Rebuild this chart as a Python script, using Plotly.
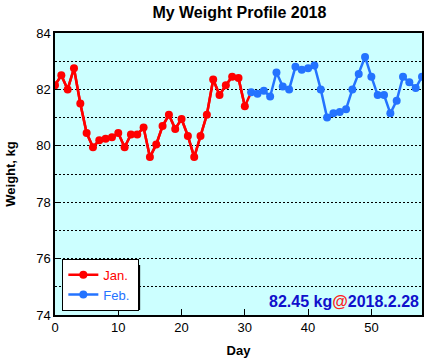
import plotly.graph_objects as go

# Data
jan_days = list(range(0, 31))
jan_weight = [82.15, 82.5, 82.0, 82.75, 81.5, 80.45, 79.95, 80.2, 80.25, 80.3,
              80.45, 79.95, 80.4, 80.4, 80.65, 79.6, 80.05, 80.7, 81.1, 80.6,
              80.95, 80.35, 79.6, 80.35, 81.1, 82.35, 81.8, 82.15, 82.45, 82.4,
              81.4]
feb_days = list(range(31, 59))
feb_weight = [81.9, 81.85, 81.95, 81.75, 82.6, 82.1, 82.0, 82.8, 82.7, 82.75,
              82.85, 82.0, 81.0, 81.15, 81.2, 81.3, 82.0, 82.55, 83.15, 82.45,
              81.8, 81.8, 81.15, 81.6, 82.45, 82.25, 82.05, 82.45]
y_ticks = [74, 76, 78, 80, 82, 84]
x_ticks = [0, 10, 20, 30, 40, 50]

RED = "#ff0000"
BLUE = "#2473ff"
FONT = "Liberation Sans, Arial, sans-serif"
DOTS = "2px,2px"

fig = go.Figure()
# Jan line continues to first Feb point
fig.add_trace(go.Scatter(
    x=jan_days + feb_days[:1], y=jan_weight + feb_weight[:1],
    mode="lines", line=dict(color=RED, width=2.5), showlegend=False, hoverinfo="skip"))
fig.add_trace(go.Scatter(
    x=jan_days, y=jan_weight, mode="lines+markers",
    name="<span style='color:#ff0000'>Jan.</span>&nbsp;",
    line=dict(color=RED, width=2.5), marker=dict(color=RED, size=8)))
fig.add_trace(go.Scatter(
    x=feb_days, y=feb_weight, mode="lines+markers",
    name="<span style='color:#2473ff'>Feb.</span>&nbsp;",
    line=dict(color=BLUE, width=2.5), marker=dict(color=BLUE, size=8)))

fig.update_layout(
    width=429, height=364,
    margin=dict(l=55, r=5, t=33, b=49),
    paper_bgcolor="white", plot_bgcolor="#ccffff",
    font=dict(family=FONT, size=13, color="black"),
    title=dict(text="<b>My Weight Profile 2018</b>", x=0.558, xanchor="center",
               y=0.965, yanchor="middle", font=dict(size=16, family=FONT)),
    legend=dict(x=0.02, y=0.015, xanchor="left", yanchor="bottom",
                bgcolor="white", bordercolor="black", borderwidth=1,
                font=dict(size=13, family=FONT), tracegroupgap=0,
                itemwidth=30),
    showlegend=True,
)
# legend drop shadow
fig.add_shape(type="rect", xref="paper", yref="paper",
              x0=0.027, x1=0.232, y0=0.0177, y1=0.1773,
              fillcolor="black", line=dict(width=0), layer="above")

fig.update_xaxes(
    range=[0, 58], tickvals=x_ticks, ticks="inside", ticklen=6, tickcolor="black",
    tickfont=dict(size=13, family=FONT), showgrid=False, zeroline=False,
    showline=True, linecolor="black", linewidth=1.5, mirror=True,
    title=dict(text="<b>Day</b>", font=dict(size=13, family=FONT), standoff=12),
    tickprefix="<b>", ticksuffix="</b>",
)
fig.update_yaxes(
    range=[74, 84], tickvals=y_ticks, ticks="inside", ticklen=5, tickcolor="black",
    tickfont=dict(size=13, family=FONT), zeroline=False,
    showgrid=True, gridcolor="black", griddash=DOTS, gridwidth=1,
    minor=dict(dtick=1, showgrid=True, gridcolor="black", griddash=DOTS, gridwidth=1, ticks=""),
    showline=True, linecolor="black", linewidth=1.5, mirror=True,
    title=dict(text="<b>Weight, kg</b>", font=dict(size=13, family=FONT), standoff=18),
    tickprefix="<b>", ticksuffix="</b>",
)

fig.add_annotation(
    xref="paper", yref="paper", x=0.998, y=0.012, xanchor="right", yanchor="bottom",
    text="<b><span style='color:#1010cc'>82.45 kg</span><span style='color:#ff2020'>@</span><span style='color:#1010cc'>2018.2.28</span></b>",
    showarrow=False, font=dict(size=16, family=FONT))

fig.write_html("out.html", config={"displayModeBar": False},
               post_script="document.body.style.margin='0';document.body.style.padding='0';")
